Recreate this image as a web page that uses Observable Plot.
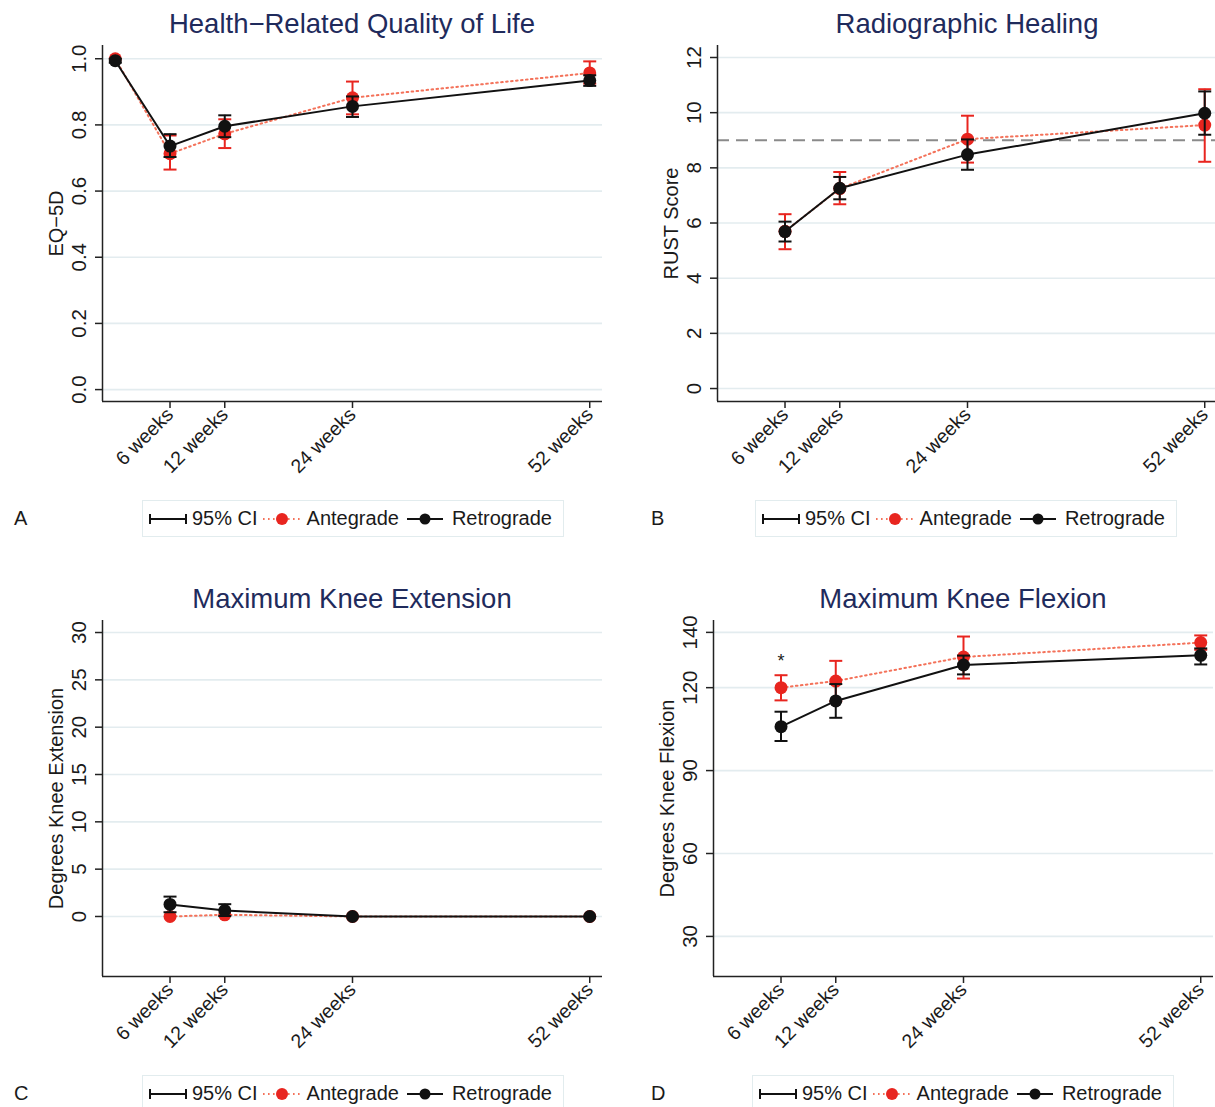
<!DOCTYPE html>
<html><head><meta charset="utf-8">
<script src="https://cdn.jsdelivr.net/npm/d3@7"></script>
<script src="https://cdn.jsdelivr.net/npm/@observablehq/plot@0.6"></script>
<style>
body{margin:0;background:#fff;}
#root{position:relative;width:1215px;height:1107px;overflow:hidden;font-family:"Liberation Sans",Arial,sans-serif;color:#1a1a1a;background:#fff;}
.title{position:absolute;width:500px;text-align:center;font-size:27.5px;line-height:28px;color:#1f2b5c;white-space:nowrap;}
.panel{position:absolute;}
.legend{position:absolute;width:422px;height:37px;border:1px solid #e2ecee;box-sizing:border-box;display:flex;align-items:center;font-size:20px;padding-left:6px;white-space:nowrap;}
.legend svg{display:block;flex:none;}
.letter{position:absolute;font-size:20px;line-height:37px;}
</style>
</head><body><div id="root"></div>
<script>
// ---- shared categories ----
const tickPos = [6, 12, 26, 52];
const tickLabels = ["6 weeks", "12 weeks", "24 weeks", "52 weeks"];
const weeksA = [0, 6, 12, 26, 52];
const weeks = [6, 12, 26, 52];
const legendLabels = ["95% CI", "Antegrade", "Retrograde"];

// ---- A: Health-Related Quality of Life (EQ-5D) ----
const eqAnte   = [1.000, 0.713, 0.773, 0.882, 0.957];
const eqAnteLo = [null,  0.665, 0.730, 0.832, 0.925];
const eqAnteHi = [null,  0.768, 0.817, 0.931, 0.992];
const eqRetro   = [0.994, 0.736, 0.796, 0.856, 0.934];
const eqRetroLo = [0.988, 0.703, 0.763, 0.824, 0.918];
const eqRetroHi = [1.000, 0.772, 0.829, 0.886, 0.950];
const eqTicks = [0, 0.2, 0.4, 0.6, 0.8, 1.0];

// ---- B: Radiographic Healing (RUST) ----
const rustAnte   = [5.70, 7.25, 9.04, 9.55];
const rustAnteLo = [5.05, 6.68, 8.19, 8.22];
const rustAnteHi = [6.32, 7.85, 9.89, 10.85];
const rustRetro   = [5.69, 7.26, 8.48, 9.98];
const rustRetroLo = [5.33, 6.86, 7.93, 9.20];
const rustRetroHi = [6.05, 7.67, 9.03, 10.77];
const rustTicks = [0, 2, 4, 6, 8, 10, 12];
const rustRef = [9];

// ---- C: Maximum Knee Extension ----
const extAnte   = [0.00, 0.18, 0.00, 0.00];
const extAnteLo = [null, null, null, null];
const extAnteHi = [null, null, null, null];
const extRetro   = [1.27, 0.63, 0.00, 0.00];
const extRetroLo = [0.45, 0.05, null, null];
const extRetroHi = [2.10, 1.30, null, null];
const extTicks = [0, 5, 10, 15, 20, 25, 30];

// ---- D: Maximum Knee Flexion ----
const flexAnte   = [120.0, 122.4, 131.1, 136.3];
const flexAnteLo = [115.4, 115.1, 123.3, 133.7];
const flexAnteHi = [124.5, 129.7, 138.5, 138.9];
const flexRetro   = [105.9, 115.2, 128.2, 131.7];
const flexRetroLo = [100.7, 109.1, 124.8, 128.4];
const flexRetroHi = [111.3, 121.3, 131.6, 134.2];
const flexTicks = [30, 60, 90, 120, 140];
const starX = [6], starY = [129.5], starText = ["*"];

const RED = "#e8251f", REDLINE = "#f4725a", BLACK = "#111";
const FONT = "'Liberation Sans', Arial, sans-serif";
const xDomain = [-1.4, 53.4];

const capSymbol = {
  draw(context, size) {
    const w = Math.sqrt(size / Math.PI);
    context.moveTo(-w, 0);
    context.lineTo(w, 0);
  }
};

function series(ws, v, lo, hi) {
  return ws.map((w, i) => ({w, v: v[i], lo: lo[i], hi: hi[i]}));
}

function groupMarks(rows, color, lineColor, dash) {
  const ci = rows.filter(d => d.lo != null && d.hi != null);
  const caps = ci.flatMap(d => [{w: d.w, y: d.lo}, {w: d.w, y: d.hi}]);
  return [
    Plot.ruleX(ci, {x: "w", y1: "lo", y2: "hi", stroke: color, strokeWidth: 2}),
    Plot.dot(caps, {x: "w", y: "y", r: 6.5, symbol: capSymbol, stroke: color, strokeWidth: 2, fill: "none"}),
    Plot.line(rows, {x: "w", y: "v", stroke: lineColor, strokeWidth: 2, strokeDasharray: dash}),
    Plot.dot(rows, {x: "w", y: "v", r: 6.5, fill: color, stroke: "none"})
  ];
}

function panel(cfg) {
  const ante = series(cfg.weeks, cfg.ante, cfg.anteLo, cfg.anteHi);
  const retro = series(cfg.weeks, cfg.retro, cfg.retroLo, cfg.retroHi);
  const marks = [
    Plot.ruleY(cfg.yTicks, {stroke: "#e3ecef", strokeWidth: 1.6}),
  ];
  if (cfg.ref) marks.push(Plot.ruleY(cfg.ref, {stroke: "#8a8a8a", strokeWidth: 2, strokeDasharray: "12,7"}));
  marks.push(
    Plot.ruleX([xDomain[0]], {stroke: "#222", strokeWidth: 1.5}),
    Plot.ruleY([cfg.yDomain[0]], {stroke: "#222", strokeWidth: 1.5}),
    Plot.axisY({ticks: cfg.yTicks, tickFormat: cfg.yFmt, tickSize: 7, tickPadding: 10, tickRotate: -90, label: null, stroke: "#222", strokeWidth: 1.5, fontSize: 20.5}),
    Plot.axisX({ticks: tickPos, tickFormat: d => tickLabels[tickPos.indexOf(d)], tickSize: 7, tickPadding: 3, tickRotate: -45, label: null, stroke: "#222", strokeWidth: 1.5, fontSize: 19.5}),
    Plot.text([cfg.ylabel], {text: d => d, frameAnchor: "left", textAnchor: "middle", dx: -46, rotate: -90, fontSize: 20}),
    ...groupMarks(ante, RED, REDLINE, "1.6,3.4"),
    ...groupMarks(retro, BLACK, BLACK, null)
  );
  if (cfg.ann) marks.push(Plot.text(cfg.ann.x.map((x, i) => ({x, y: cfg.ann.y[i], t: cfg.ann.t[i]})), {x: "x", y: "y", text: "t", fontSize: 18}));
  return Plot.plot({
    width: cfg.width, height: 451,
    marginLeft: 102, marginRight: cfg.width - 602, marginTop: 5, marginBottom: 90,
    x: {domain: xDomain, axis: null},
    y: {domain: cfg.yDomain, axis: null},
    style: {fontFamily: FONT, fontSize: "19.5px", color: "#1a1a1a", background: "transparent", overflow: "visible"},
    marks
  });
}

const root = document.getElementById("root");

function place(el, left, top) {
  el.classList.add("panel");
  el.style.left = left + "px";
  el.style.top = top + "px";
  root.appendChild(el);
}
function addTitle(text, left, top) {
  const d = document.createElement("div");
  d.className = "title";
  d.textContent = text;
  d.style.left = left + "px";
  d.style.top = top + "px";
  root.appendChild(d);
}
function addLetter(text, left, top) {
  const d = document.createElement("div");
  d.className = "letter";
  d.textContent = text;
  d.style.left = left + "px";
  d.style.top = top + "px";
  root.appendChild(d);
}
function addLegend(left, top) {
  const d = document.createElement("div");
  d.className = "legend";
  d.style.left = left + "px";
  d.style.top = top + "px";
  const ci = `<svg width="38" height="14"><line x1="1" x2="37" y1="7" y2="7" stroke="${BLACK}" stroke-width="2"/><line x1="1" x2="1" y1="2" y2="12" stroke="${BLACK}" stroke-width="2"/><line x1="37" x2="37" y1="2" y2="12" stroke="${BLACK}" stroke-width="2"/></svg>`;
  const red = `<svg width="38" height="14"><line x1="0" x2="38" y1="7" y2="7" stroke="${REDLINE}" stroke-width="2" stroke-dasharray="1.6,3.4"/><circle cx="19" cy="7" r="6" fill="${RED}"/></svg>`;
  const blk = `<svg width="36" height="14"><line x1="0" x2="36" y1="7" y2="7" stroke="${BLACK}" stroke-width="2"/><circle cx="18" cy="7" r="5.5" fill="${BLACK}"/></svg>`;
  d.innerHTML = `${ci}<span style="margin-left:5px;margin-right:5px">${legendLabels[0]}</span>${red}<span style="margin-left:6px;margin-right:8px">${legendLabels[1]}</span>${blk}<span style="margin-left:9px">${legendLabels[2]}</span>`;
  root.appendChild(d);
}

// Panel A
place(panel({width: 607, weeks: weeksA, ante: eqAnte, anteLo: eqAnteLo, anteHi: eqAnteHi,
  retro: eqRetro, retroLo: eqRetroLo, retroHi: eqRetroHi,
  yDomain: [-0.036, 1.040], yTicks: eqTicks, yFmt: d3.format(".1f"), ylabel: "EQ\u22125D"}), 0, 40);
addTitle("Health\u2212Related Quality of Life", 102, 10);
addLegend(142, 500);
addLetter("A", 14, 500);

// Panel B
place(panel({width: 602, weeks, ante: rustAnte, anteLo: rustAnteLo, anteHi: rustAnteHi,
  retro: rustRetro, retroLo: rustRetroLo, retroHi: rustRetroHi,
  yDomain: [-0.47, 12.435], yTicks: rustTicks, yFmt: d3.format("d"), ylabel: "RUST Score", ref: rustRef}), 615, 40);
addTitle("Radiographic Healing", 717, 10);
addLegend(755, 500);
addLetter("B", 651, 500);

// Panel C
place(panel({width: 607, weeks, ante: extAnte, anteLo: extAnteLo, anteHi: extAnteHi,
  retro: extRetro, retroLo: extRetroLo, retroHi: extRetroHi,
  yDomain: [-6.34, 31.27], yTicks: extTicks, yFmt: d3.format("d"), ylabel: "Degrees Knee Extension"}), 0, 615);
addTitle("Maximum Knee Extension", 102, 585);
addLegend(142, 1075);
addLetter("C", 14, 1075);

// Panel D
place(panel({width: 607, weeks, ante: flexAnte, anteLo: flexAnteLo, anteHi: flexAnteHi,
  retro: flexRetro, retroLo: flexRetroLo, retroHi: flexRetroHi,
  yDomain: [15.5, 144.3], yTicks: flexTicks, yFmt: d3.format("d"), ylabel: "Degrees Knee Flexion",
  ann: {x: starX, y: starY, t: starText}}), 611, 615);
addTitle("Maximum Knee Flexion", 713, 585);
addLegend(752, 1075);
addLetter("D", 651, 1075);
</script>
</body></html>
